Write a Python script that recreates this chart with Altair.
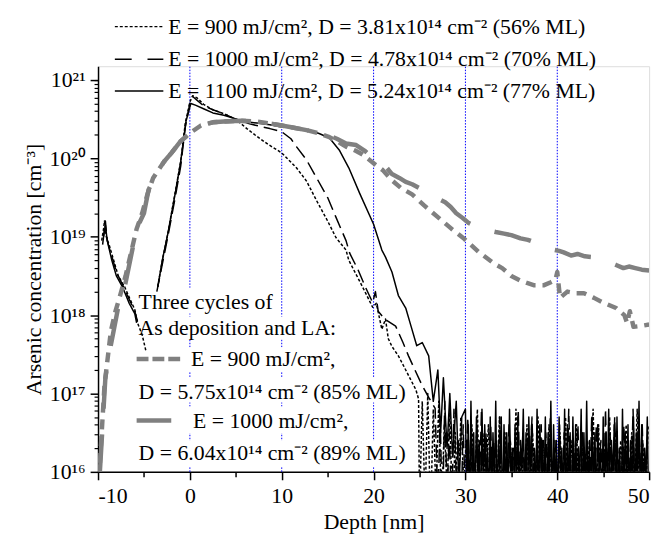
import altair as alt
import pandas as pd
import numpy as np

FONT = "Liberation Serif"
FS = 22

# ---------------- data (depth in nm, concentration as log10 values) ----------------
# black dotted: E = 900 mJ/cm2 (single)
dot_a_x = [-9.6, -9.4, -9.3, -9.1, -8.8, -8.3, -7.8, -7.1, -6.5, -6.0, -5.7, -5.2, -4.8]
dot_a_y = [18.95, 19.1, 19.2, 19.0, 18.9, 18.7, 18.5, 18.36, 18.2, 18.07, 17.9, 17.75, 17.55]
dot_b_x = [-3.5, -3.0, -2.4, -1.7, -1.0, -0.5, 0.0, 0.3, 0.8, 1.5, 2.5, 3.7, 5.0, 6.2, 7.3, 8.5,
           10.0, 11.6, 12.7, 13.8, 15.0, 15.9, 17.0, 17.3, 18.8, 19.9, 20.3, 20.9, 21.3, 21.6,
           22.0, 22.7, 23.5, 24.2, 24.6, 24.9]
dot_b_y = [18.36, 18.7, 19.04, 19.5, 19.96, 20.45, 20.72, 20.80, 20.77, 20.69, 20.62, 20.57, 20.5,
           20.38, 20.28, 20.18, 20.07, 19.88, 19.71, 19.46, 19.2, 18.99, 18.83, 18.70, 18.36, 18.10,
           18.15, 17.82, 17.95, 17.7, 17.6, 17.48, 17.3, 17.14, 17.05, 16.93]
dot_noise_start, dot_noise_step = 25.0, 0.3
dot_noise_y = [15.5, 16.9, 15.6, 17.0, 15.4, 16.8, 15.7, 16.9, 15.5, 16.6, 15.8, 16.8, 15.4, 16.5, 15.6, 16.7, 15.9, 16.4, 15.5, 16.6,
               15.7, 16.8, 15.3, 16.5, 15.8, 16.6, 15.5, 16.3, 15.6, 16.7, 15.4, 16.5, 15.9, 16.4, 15.6, 16.8, 15.5, 16.3, 15.7, 16.6,
               15.4, 16.5, 15.8, 16.7, 15.5, 16.4, 15.6, 16.6, 15.9, 16.3, 15.4, 16.5, 15.7, 16.7, 15.5, 16.4, 15.8, 16.6, 15.3, 16.5,
               15.6, 16.4, 15.7, 16.8, 15.5, 16.6, 15.4, 16.3, 15.8, 16.7, 15.6, 16.5, 15.5, 16.4, 15.9, 16.6, 15.3, 16.5, 15.7, 16.8,
               15.5, 16.4, 15.6, 16.6]

# black dashed: E = 1000 mJ/cm2 (single)
dash_a_x = [-9.5, -9.3, -9.2, -9.0, -8.5, -8.0, -7.3, -6.6, -6.0, -5.7]
dash_a_y = [18.9, 19.1, 19.2, 18.95, 18.75, 18.55, 18.38, 18.2, 18.05, 17.92]
dash_b_x = [-3.6, -3.0, -2.4, -1.6, -1.0, -0.5, 0.0, 0.3, 0.8, 1.5, 2.5, 3.7, 4.8, 6.5, 8.7, 10.0,
            11.0, 11.6, 12.7, 13.8, 15.0, 15.9, 17.0, 17.4, 18.3, 19.1, 19.9, 20.2, 20.5, 21.2,
            22.4, 23.2, 23.8, 24.5, 25.3, 26.0, 26.7]
dash_b_y = [18.3, 18.65, 19.0, 19.5, 19.9, 20.4, 20.7, 20.79, 20.74, 20.67, 20.62, 20.57, 20.51,
            20.44, 20.38, 20.34, 20.25, 20.15, 19.98, 19.75, 19.5, 19.25, 18.95, 18.79, 18.58,
            18.36, 18.16, 18.3, 18.05, 17.95, 17.86, 17.65, 17.48, 17.3, 17.10, 16.95, 16.81]
dash_noise_start, dash_noise_step = 27.0, 0.25
dash_noise_y = [15.6, 16.7, 15.4, 16.9, 15.7, 16.5, 15.5, 16.8, 15.9, 16.4, 15.3, 16.6, 15.6, 16.7, 15.8, 16.3, 15.5, 16.6, 15.7, 16.8,
                15.4, 16.5, 15.9, 16.6, 15.5, 16.4, 15.6, 16.7, 15.3, 16.5, 15.8, 16.6, 15.5, 16.3, 15.7, 16.8, 15.4, 16.5, 15.6, 16.4,
                15.9, 16.7, 15.5, 16.3, 15.6, 16.6, 15.4, 16.5, 15.8, 16.7, 15.5, 16.4, 15.7, 16.6, 15.3, 16.5, 15.6, 16.8, 15.5, 16.4,
                15.8, 16.6, 15.4, 16.5, 15.6, 16.3, 15.7, 16.7, 15.5, 16.6, 15.9, 16.4, 15.3, 16.8, 15.6, 16.5, 15.4, 16.7, 15.8, 16.3,
                15.5, 16.6, 15.7, 16.4, 15.6, 16.8, 15.4, 16.5, 15.9, 16.6, 15.5, 16.4]

# black solid: E = 1100 mJ/cm2 (single)
sol_a_x = [-9.4, -9.2, -9.0, -8.5, -8.0, -7.3, -6.6, -6.0, -5.8]
sol_a_y = [19.0, 19.15, 18.95, 18.7, 18.5, 18.35, 18.15, 18.02, 17.9]
sol_b_x = [-3.5, -3.0, -2.4, -1.6, -1.0, -0.43, 0.1, 0.6, 1.55, 2.5, 3.7, 4.8, 5.9, 7.3, 8.7, 10.0,
           11.6, 12.7, 14.0, 15.2, 16.3, 17.3, 18.5, 20.0, 20.9, 21.3, 22.0, 22.7, 23.5, 24.1, 24.7,
           25.3, 26.0, 26.5, 27.0, 27.3, 27.6, 28.0, 28.3, 28.6, 29.0, 29.3, 29.6]
sol_b_y = [18.36, 18.7, 19.04, 19.55, 19.96, 20.47, 20.70, 20.68, 20.63, 20.58, 20.55, 20.51, 20.47,
           20.45, 20.43, 20.40, 20.39, 20.36, 20.32, 20.26, 20.10, 19.88, 19.55, 19.16, 18.83, 18.74,
           18.55, 18.25, 18.09, 17.85, 17.61, 17.65, 17.48, 16.9, 17.3, 16.5, 17.2, 16.3, 17.0, 16.2,
           16.9, 15.8, 16.7]
sol_noise_start, sol_noise_step = 30.0, 0.15
sol_noise_y = [16.8, 15.6, 16.6, 15.4, 16.9, 15.8, 16.5, 15.5, 16.7, 16.0, 16.4, 15.3, 16.8, 15.7, 16.6, 15.9, 16.3, 15.4, 16.7, 15.6,
               16.5, 15.8, 16.9, 15.5, 16.4, 16.0, 16.7, 15.3, 16.6, 15.7, 16.5, 15.6, 16.8, 15.9, 16.3, 15.4, 16.6, 15.8, 16.7, 15.5,
               16.4, 16.0, 16.8, 15.6, 16.5, 15.3, 16.7, 15.9, 16.6, 15.4, 16.3, 15.7, 16.8, 15.5, 16.6, 16.0, 16.4, 15.6, 16.7, 15.3,
               16.5, 15.8, 16.9, 15.4, 16.6, 15.7, 16.4, 15.5, 16.7, 15.9, 16.3, 15.6, 16.8, 15.4, 16.6, 15.8, 16.5, 15.3, 16.7, 15.6,
               16.6, 15.5, 16.3, 15.9, 16.8, 15.4, 16.5, 15.7, 16.9, 15.6, 16.4, 15.3, 16.7, 15.8, 16.5, 15.5, 16.6, 16.0, 16.3, 15.4,
               16.7, 15.6, 16.5, 15.8, 16.8, 15.3, 16.4, 15.9, 16.6, 15.5, 16.7, 15.7, 16.3, 15.4, 16.8, 15.6, 16.5, 15.9, 16.6, 15.3,
               16.4, 15.7, 16.7, 15.5, 16.5, 15.8, 16.9, 15.4, 16.6, 15.6, 16.3, 15.9, 16.7, 15.5]

# gray dashed: three cycles, E = 900 mJ/cm2
g900_x = [-9.9, -9.7, -9.5, -9.3, -9.0, -8.6, -8.1, -7.6, -7.0, -6.4, -5.8, -5.2, -4.6, -4.0, -3.5,
          -2.8, -2.0, -1.0, 0.1, 1.2, 2.5, 3.7, 5.5, 7.3, 9.0, 10.9, 12.7, 14.0, 15.2, 16.0, 17.0,
          18.0, 18.8, 20.2, 21.0, 22.0, 23.0, 24.2, 25.5, 27.0, 28.5, 29.9, 31.5, 33.1, 34.0, 35.0,
          36.0, 36.7, 37.5, 38.5, 39.3, 39.8, 40.0, 40.3, 41.1, 42.0, 42.9, 44.0, 45.0, 46.4, 47.3,
          47.6, 47.9, 48.3, 49.0, 50.0]
g900_y = [15.9, 16.3, 16.7, 17.1, 17.4, 17.8, 18.05, 18.25, 18.5, 18.8, 19.1, 19.3, 19.55, 19.75,
          19.84, 19.96, 20.07, 20.22, 20.33, 20.42, 20.46, 20.47, 20.48, 20.47, 20.44, 20.40, 20.36,
          20.32, 20.27, 20.22, 20.15, 20.10, 20.05, 19.92, 19.85, 19.72, 19.62, 19.54, 19.40, 19.25,
          19.10, 18.97, 18.80, 18.66, 18.6, 18.50, 18.44, 18.41, 18.38, 18.38, 18.42, 18.45, 18.55,
          18.22, 18.30, 18.28, 18.28, 18.22, 18.16, 18.09, 18.0, 17.9, 18.05, 17.85, 17.86, 17.88]

# gray thick: three cycles, E = 1000 mJ/cm2
g1000_x = [-9.8, -9.6, -9.4, -9.2, -8.8, -8.3, -7.8, -7.2, -6.5, -5.8, -5.0, -4.5, -3.5, -2.8, -2.0,
           -1.0, 0.1, 1.2, 2.5, 3.7, 5.5, 7.3, 9.0, 10.9, 12.7, 14.0, 15.2, 16.0, 17.0, 18.1, 19.0,
           19.8, 20.5, 21.3, 22.0, 22.8, 23.5, 24.2, 25.0, 26.0, 26.8, 27.8, 28.4, 29.0, 29.7, 30.3,
           31.0, 31.8, 32.5, 33.3, 34.2, 35.0, 36.0, 36.8, 37.5, 38.5, 39.3, 40.2, 40.7, 41.5, 42.2,
           43.0, 43.9, 44.8, 45.6, 46.4, 47.2, 47.8, 48.5, 49.2, 50.0]
g1000_y = [16.0, 16.4, 16.8, 17.2, 17.5, 17.8, 18.1, 18.3, 18.7, 19.1, 19.3, 19.6, 19.84, 19.96,
           20.07, 20.22, 20.33, 20.42, 20.46, 20.47, 20.48, 20.47, 20.44, 20.40, 20.36, 20.32, 20.29,
           20.25, 20.19, 20.17, 20.10, 20.02, 19.96, 19.90, 19.80, 19.75, 19.70, 19.67, 19.62, 19.56,
           19.50, 19.44, 19.38, 19.30, 19.24, 19.18, 19.14, 19.10, 19.08, 19.06, 19.04, 19.02, 18.98,
           18.96, 18.93, 18.88, 18.84, 18.82, 18.80, 18.76, 18.78, 18.75, 18.74, 18.72, 18.68, 18.64,
           18.60, 18.62, 18.60, 18.58, 18.57]

marker_depths = [0, 10, 20, 30, 40]
x_major = [-10, 0, 10, 20, 30, 40, 50]
x_minor = [-5, 5, 15, 25, 35, 45]
y_exponents = [16, 17, 18, 19, 20, 21]
y_exp_labels = ["¹⁶", "¹⁷", "¹⁸", "¹⁹", "²⁰", "²¹"]

legend_top = [
    "E = 900 mJ/cm², D = 3.81x10¹⁴ cm⁻² (56% ML)",
    "E = 1000 mJ/cm², D = 4.78x10¹⁴ cm⁻² (70% ML)",
    "E = 1100 mJ/cm², D = 5.24x10¹⁴ cm⁻² (77% ML)",
]
legend_bottom = [
    "Three cycles of",
    "As deposition and LA:",
    "E = 900 mJ/cm²,",
    "D = 5.75x10¹⁴ cm⁻² (85% ML)",
    "E = 1000 mJ/cm²,",
    "D = 6.04x10¹⁴ cm⁻² (89% ML)",
]
x_title = "Depth [nm]"
y_title = "Arsenic concentration [cm⁻³]"

# ---------------- build tables ----------------
def series(segments, noise=None):
    rows = []
    for k, (xs, ys) in enumerate(segments):
        for xv, yv in zip(xs, ys):
            rows.append({"x": xv, "y": 10 ** yv, "seg": k})
    if noise is not None:
        start, step, vals = noise
        k = len(segments) - 1
        for i, yv in enumerate(vals):
            rows.append({"x": round(start + step * i, 3), "y": 10 ** yv, "seg": k})
    df = pd.DataFrame(rows)
    df["order"] = np.arange(len(df))
    return df

df_dot = series([(dot_a_x, dot_a_y), (dot_b_x, dot_b_y)], (dot_noise_start, dot_noise_step, dot_noise_y))
df_dash = series([(dash_a_x, dash_a_y), (dash_b_x, dash_b_y)], (dash_noise_start, dash_noise_step, dash_noise_y))
df_sol = series([(sol_a_x, sol_a_y), (sol_b_x, sol_b_y)], (sol_noise_start, sol_noise_step, sol_noise_y))
df_g900 = series([(g900_x, g900_y)])
df_g1000 = series([(g1000_x, g1000_y)])

YMIN, YMAX = 1e16, 1.5e21
xscale = alt.Scale(domain=[-10, 50], nice=False, zero=False)
yscale = alt.Scale(type="log", domain=[YMIN, YMAX], nice=False)

label_expr = "'10' + " + "".join(
    f"(round(log(datum.value)/LN10) == {e} ? '{s}' : " for e, s in zip(y_exponents, y_exp_labels)
) + "''" + ")" * len(y_exponents)

x_major_axis = alt.Axis(orient="bottom", values=x_major, labelExpr="'' + datum.value", tickSize=8,
                        labelPadding=6, title=x_title, titlePadding=5, grid=False,
                        domainColor="black", domainWidth=1.5, tickColor="black", tickWidth=1.5)
y_major_axis = alt.Axis(orient="left", values=[10 ** e for e in y_exponents], labelExpr=label_expr,
                        tickSize=8, labelPadding=5, title=y_title, titlePadding=4, grid=False,
                        domainColor="black", domainWidth=1.5, tickColor="black", tickWidth=1.5)

y_minor_vals = [m * 10 ** e for e in range(16, 21) for m in range(2, 10)] + [1e21]
x_minor_axis = alt.Axis(orient="bottom", values=x_minor, labels=False, tickSize=5, title=None,
                        domain=False, grid=False, tickColor="black", tickWidth=1.5)
y_minor_axis = alt.Axis(orient="left", values=y_minor_vals, labels=False, tickSize=4, title=None,
                        domain=False, grid=False, tickColor="black", tickWidth=1.2)

minor_layer = alt.Chart(pd.DataFrame({"x": [0], "y": [1e18]})).mark_point(opacity=0).encode(
    x=alt.X("x:Q", scale=xscale, axis=x_minor_axis),
    y=alt.Y("y:Q", scale=yscale, axis=y_minor_axis),
)

df_blue = pd.DataFrame({"x": marker_depths, "y": [YMIN] * 5, "y2": [YMAX] * 5})
blue = alt.Chart(df_blue).mark_rule(color="#0000ff", strokeWidth=1, strokeDash=[1.5, 1.5]).encode(
    x=alt.X("x:Q", scale=xscale, axis=x_major_axis),
    y=alt.Y("y:Q", scale=yscale, axis=y_major_axis),
    y2="y2:Q",
)

def line(df, color, width, dash=None):
    kw = dict(color=color, strokeWidth=width, clip=True, strokeJoin="round")
    if dash:
        kw["strokeDash"] = dash
    return alt.Chart(df).mark_line(**kw).encode(
        x=alt.X("x:Q", scale=xscale, axis=None),
        y=alt.Y("y:Q", scale=yscale, axis=None),
        detail="seg:N",
        order="order:Q",
    )

l_dot = line(df_dot, "black", 1.5, [3, 2])
l_dash = line(df_dash, "black", 1.5, [14, 6])
l_sol = line(df_sol, "black", 1.5)
l_g900 = line(df_g900, "#808080", 4.5, [10, 7])
l_g1000 = line(df_g1000, "#808080", 4.5, [38, 26])

one = pd.DataFrame({"a": [0]})

def sample(x1, x2, yv, color, width, dash=None):
    kw = dict(color=color, strokeWidth=width)
    if dash:
        kw["strokeDash"] = dash
    return alt.Chart(one).mark_rule(**kw).encode(x=alt.value(x1), x2=alt.value(x2), y=alt.value(yv))

def label(txt, xv, yv):
    return alt.Chart(pd.DataFrame({"t": [txt]})).mark_text(
        font=FONT, fontSize=FS, align="left", baseline="middle", color="black"
    ).encode(x=alt.value(xv), y=alt.value(yv), text="t:N")

def whitebox(x1, x2, y1, y2):
    return alt.Chart(one).mark_rect(color="white").encode(
        x=alt.value(x1), x2=alt.value(x2), y=alt.value(y1), y2=alt.value(y2))

# white text backgrounds of the lower legend (they hide the blue marker lines)
boxes = [
    whitebox(40, 176, 224, 250),
    whitebox(40, 240, 253, 276),
    whitebox(38, 254, 284, 309),
    whitebox(40, 306, 314, 340),
    whitebox(38, 262, 344, 371),
    whitebox(40, 306, 378, 404),
]

legend_layers = [
    sample(17, 66, -40, "black", 1.5, [3, 2]),
    sample(17, 66, -7, "black", 1.5, [17, 16]),
    sample(17, 66, 25, "black", 1.5),
    label(legend_top[0], 71, -40),
    label(legend_top[1], 71, -7),
    label(legend_top[2], 71, 25),
    label(legend_bottom[0], 41, 238),
    label(legend_bottom[1], 41, 265),
    sample(39, 83, 296, "#808080", 4.5, [12, 4]),
    label(legend_bottom[2], 94, 296),
    label(legend_bottom[3], 41, 329),
    sample(39, 74, 358, "#808080", 4.5),
    label(legend_bottom[4], 96, 359),
    label(legend_bottom[5], 41, 391),
]

chart = alt.layer(
    minor_layer, blue, *boxes, l_dot, l_dash, l_sol, l_g900, l_g1000, *legend_layers
).resolve_axis(x="independent", y="independent").properties(
    width=557, height=410,
    autosize=alt.AutoSizeParams(type="none"),
    padding={"left": 91, "top": 56, "right": 12, "bottom": 62},
).configure_view(stroke=None).configure(font=FONT).configure_axis(
    labelFont=FONT, titleFont=FONT, labelFontSize=FS, titleFontSize=FS,
    labelColor="black", titleColor="black", titleFontWeight="normal",
)

chart.save("out.html", embed_options={"renderer": "svg", "actions": False})
